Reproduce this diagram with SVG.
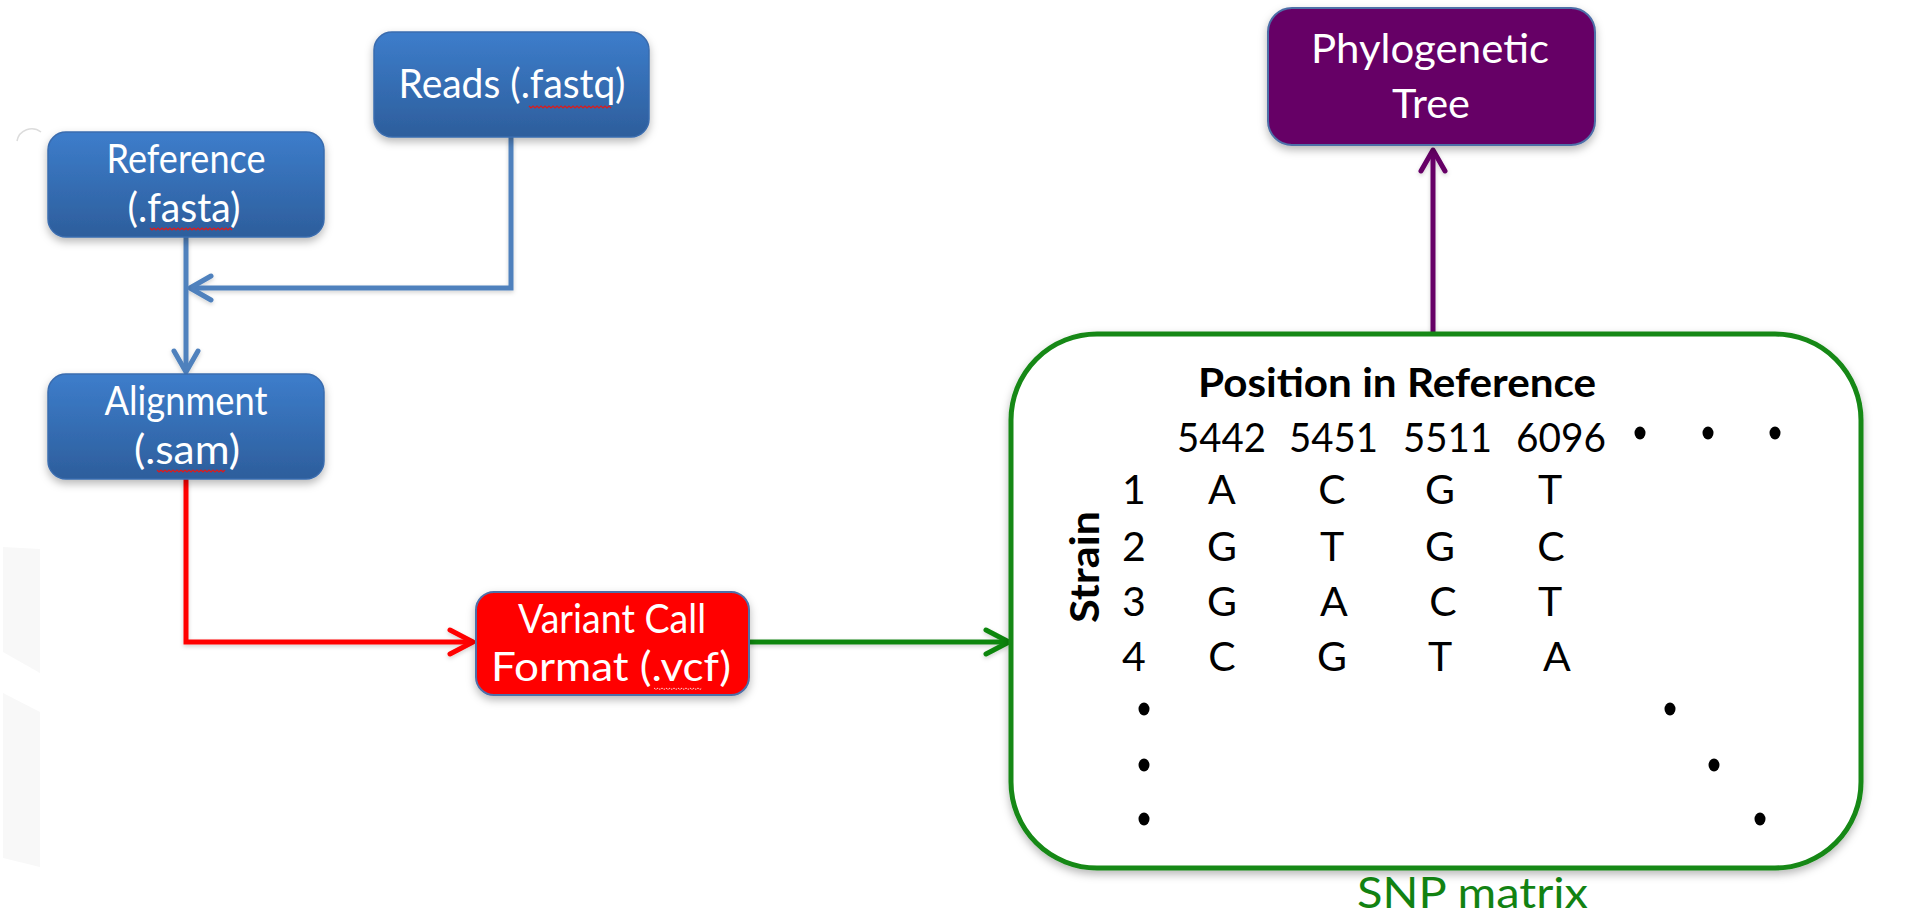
<svg xmlns="http://www.w3.org/2000/svg" width="1916" height="914" viewBox="0 0 1916 914">
  <defs>
    <linearGradient id="blueGrad" x1="0" y1="0" x2="0" y2="1">
      <stop offset="0" stop-color="#3d7dcb"/>
      <stop offset="1" stop-color="#2d5e9c"/>
    </linearGradient>
    <filter id="shadow" x="-10%" y="-10%" width="120%" height="130%">
      <feDropShadow dx="0" dy="4" stdDeviation="4" flood-color="#000" flood-opacity="0.28"/>
    </filter>
    <filter id="lshadow" filterUnits="userSpaceOnUse" x="0" y="0" width="1916" height="914">
      <feDropShadow dx="0" dy="2" stdDeviation="2" flood-color="#000" flood-opacity="0.18"/>
    </filter>
    <marker id="arrBlue" viewBox="-30 -20 40 40" markerWidth="40" markerHeight="40" refX="0" refY="0" orient="auto" markerUnits="userSpaceOnUse">
      <path d="M-21,-12 L0,0 L-21,12" fill="none" stroke="#4f81bd" stroke-width="5" stroke-linecap="round" stroke-linejoin="round"/>
    </marker>
    <marker id="arrRed" viewBox="-30 -20 40 40" markerWidth="40" markerHeight="40" refX="0" refY="0" orient="auto" markerUnits="userSpaceOnUse">
      <path d="M-23,-12 L0,0 L-23,12" fill="none" stroke="#ff0000" stroke-width="5" stroke-linecap="round" stroke-linejoin="round"/>
    </marker>
    <marker id="arrGreen" viewBox="-30 -20 40 40" markerWidth="40" markerHeight="40" refX="0" refY="0" orient="auto" markerUnits="userSpaceOnUse">
      <path d="M-23,-12 L0,0 L-23,12" fill="none" stroke="#0e860e" stroke-width="5" stroke-linecap="round" stroke-linejoin="round"/>
    </marker>
    <marker id="arrPurple" viewBox="-30 -20 40 40" markerWidth="40" markerHeight="40" refX="0" refY="0" orient="auto" markerUnits="userSpaceOnUse">
      <path d="M-21,-12 L0,0 L-21,12" fill="none" stroke="#660066" stroke-width="5" stroke-linecap="round" stroke-linejoin="round"/>
    </marker>
  </defs>
  <style>
    .blue { fill: url(#blueGrad); stroke: #3a6cae; stroke-width: 1.5; filter: url(#shadow); }
    .red { fill: #ff0000; stroke: #4e6fa8; stroke-width: 2; filter: url(#shadow); }
    .purple { fill: #660066; stroke: #4e6fa8; stroke-width: 2; filter: url(#shadow); }
    .snp { fill: #ffffff; stroke: #148814; stroke-width: 5; filter: url(#shadow); }
    .lbl { font-family: Lato, "Liberation Sans", sans-serif; font-size: 41px; fill: #ffffff; text-anchor: middle; }
    .mx { font-family: Lato, "Liberation Sans", sans-serif; font-size: 40px; fill: #000000; }
    .mxc { font-family: Lato, "Liberation Sans", sans-serif; font-size: 41px; fill: #000000; text-anchor: middle; }
    .bold { font-weight: bold; }
    .dot { fill: #000000; }
    .conn { fill: none; stroke-width: 5; filter: url(#lshadow); }
    .squig { fill: none; stroke: #e01a1a; stroke-width: 1.2; }
  </style>

  <rect x="0" y="0" width="1916" height="914" fill="#ffffff"/>

  <!-- faint background artifacts -->
  <g id="background-artifacts">
    <path d="M17,141 A15,15 0 0 1 41,132" fill="none" stroke="#dcdcdc" stroke-width="1.5"/>
    <polygon points="3,547 40,549 40,673 3,652" fill="#f8f8f8"/>
    <polygon points="3,693 40,712 40,867 3,858" fill="#f8f8f8"/>
  </g>

  <!-- connectors -->
  <g id="connectors">
    <path class="conn" d="M511,137 V288 H190" stroke="#4f81bd" marker-end="url(#arrBlue)"/>
    <path class="conn" d="M186,237 V372" stroke="#4f81bd" marker-end="url(#arrBlue)"/>
    <path class="conn" d="M186,479 V642 H473" stroke="#ff0000" marker-end="url(#arrRed)"/>
    <path class="conn" d="M749,642 H1009" stroke="#0e860e" marker-end="url(#arrGreen)"/>
    <path class="conn" d="M1433,332 V150" stroke="#660066" marker-end="url(#arrPurple)"/>
  </g>

  <g id="node-reads">
    <rect class="blue" x="374" y="32" width="275" height="105" rx="18"/>
    <text class="lbl" x="512" y="98" textLength="227" lengthAdjust="spacingAndGlyphs">Reads (.fastq)</text>
    <path class="squig" d="M529,106 l2,2 l2,-2 l2,2 l2,-2 l2,2 l2,-2 l2,2 l2,-2 l2,2 l2,-2 l2,2 l2,-2 l2,2 l2,-2 l2,2 l2,-2 l2,2 l2,-2 l2,2 l2,-2 l2,2 l2,-2 l2,2 l2,-2 l2,2 l2,-2 l2,2 l2,-2 l2,2 l2,-2 l2,2 l2,-2 l2,2 l2,-2 l2,2 l2,-2 l2,2 l2,-2 l2,2 l2,-2 l2,2"/>
  </g>

  <g id="node-reference">
    <rect class="blue" x="48" y="132" width="276" height="105" rx="18"/>
    <text class="lbl" x="186" y="173" textLength="159" lengthAdjust="spacingAndGlyphs">Reference</text>
    <text class="lbl" x="184" y="222" textLength="113" lengthAdjust="spacingAndGlyphs">(.fasta)</text>
    <path class="squig" d="M150,228 l2,2 l2,-2 l2,2 l2,-2 l2,2 l2,-2 l2,2 l2,-2 l2,2 l2,-2 l2,2 l2,-2 l2,2 l2,-2 l2,2 l2,-2 l2,2 l2,-2 l2,2 l2,-2 l2,2 l2,-2 l2,2 l2,-2 l2,2 l2,-2 l2,2 l2,-2 l2,2 l2,-2 l2,2 l2,-2 l2,2 l2,-2 l2,2 l2,-2 l2,2 l2,-2 l2,2 l2,-2 l2,2"/>
  </g>

  <g id="node-alignment">
    <rect class="blue" x="48" y="374" width="276" height="105" rx="18"/>
    <text class="lbl" x="186" y="415" textLength="163" lengthAdjust="spacingAndGlyphs">Alignment</text>
    <text class="lbl" x="187" y="464" textLength="106" lengthAdjust="spacingAndGlyphs">(.sam)</text>
    <path class="squig" d="M157,470 l2,2 l2,-2 l2,2 l2,-2 l2,2 l2,-2 l2,2 l2,-2 l2,2 l2,-2 l2,2 l2,-2 l2,2 l2,-2 l2,2 l2,-2 l2,2 l2,-2 l2,2 l2,-2 l2,2 l2,-2 l2,2 l2,-2 l2,2 l2,-2 l2,2 l2,-2 l2,2 l2,-2 l2,2 l2,-2 l2,2 l2,-2"/>
  </g>

  <g id="node-vcf">
    <rect class="red" x="476" y="592" width="273" height="103" rx="18"/>
    <text class="lbl" x="612" y="633" textLength="188" lengthAdjust="spacingAndGlyphs">Variant Call</text>
    <text class="lbl" x="611" y="681" textLength="240" lengthAdjust="spacingAndGlyphs">Format (.vcf)</text>
    <path d="M654,688 l2,1.5 l2,-1.5 l2,1.5 l2,-1.5 l2,1.5 l2,-1.5 l2,1.5 l2,-1.5 l2,1.5 l2,-1.5 l2,1.5 l2,-1.5 l2,1.5 l2,-1.5 l2,1.5 l2,-1.5 l2,1.5 l2,-1.5 l2,1.5 l2,-1.5 l2,1.5 l2,-1.5 l2,1.5 l2,-1.5" fill="none" stroke="#ffd6d6" stroke-width="1" stroke-dasharray="2 1"/>
  </g>

  <g id="node-phylo">
    <rect class="purple" x="1268" y="8" width="327" height="137" rx="24"/>
    <text class="lbl" x="1430" y="63" textLength="238" lengthAdjust="spacingAndGlyphs">Phylogenetic</text>
    <text class="lbl" x="1431" y="118" textLength="78" lengthAdjust="spacingAndGlyphs">Tree</text>
  </g>

  <g id="node-snp">
    <rect class="snp" x="1011" y="334" width="850" height="534" rx="86"/>
    <text class="mx bold" x="1198" y="397" textLength="398" lengthAdjust="spacingAndGlyphs">Position in Reference</text>
    <text class="mx" x="1177" y="452" textLength="89" lengthAdjust="spacingAndGlyphs">5442</text>
    <text class="mx" x="1289" y="452" textLength="89" lengthAdjust="spacingAndGlyphs">5451</text>
    <text class="mx" x="1403" y="452" textLength="89" lengthAdjust="spacingAndGlyphs">5511</text>
    <text class="mx" x="1516" y="452" textLength="90" lengthAdjust="spacingAndGlyphs">6096</text>
    <ellipse class="dot" cx="1640" cy="433" rx="5.5" ry="6.5"/>
    <ellipse class="dot" cx="1708" cy="433" rx="5.5" ry="6.5"/>
    <ellipse class="dot" cx="1775" cy="433" rx="5.5" ry="6.5"/>

    <text class="mxc bold" transform="translate(1099,567) rotate(-90)" textLength="112" lengthAdjust="spacingAndGlyphs">Strain</text>

    <text class="mxc" x="1134" y="504">1</text>
    <text class="mxc" x="1222" y="504">A</text>
    <text class="mxc" x="1332" y="504">C</text>
    <text class="mxc" x="1440" y="504">G</text>
    <text class="mxc" x="1550" y="504">T</text>

    <text class="mxc" x="1134" y="561">2</text>
    <text class="mxc" x="1222" y="561">G</text>
    <text class="mxc" x="1332" y="561">T</text>
    <text class="mxc" x="1440" y="561">G</text>
    <text class="mxc" x="1551" y="561">C</text>

    <text class="mxc" x="1134" y="616">3</text>
    <text class="mxc" x="1222" y="616">G</text>
    <text class="mxc" x="1334" y="616">A</text>
    <text class="mxc" x="1443" y="616">C</text>
    <text class="mxc" x="1550" y="616">T</text>

    <text class="mxc" x="1134" y="671">4</text>
    <text class="mxc" x="1222" y="671">C</text>
    <text class="mxc" x="1332" y="671">G</text>
    <text class="mxc" x="1440" y="671">T</text>
    <text class="mxc" x="1557" y="671">A</text>

    <ellipse class="dot" cx="1144" cy="709" rx="5.5" ry="6.5"/>
    <ellipse class="dot" cx="1144" cy="765" rx="5.5" ry="6.5"/>
    <ellipse class="dot" cx="1144" cy="819" rx="5.5" ry="6.5"/>
    <ellipse class="dot" cx="1670" cy="709" rx="5.5" ry="6.5"/>
    <ellipse class="dot" cx="1714" cy="765" rx="5.5" ry="6.5"/>
    <ellipse class="dot" cx="1760" cy="819" rx="5.5" ry="6.5"/>

    <text x="1357" y="908" textLength="231" lengthAdjust="spacingAndGlyphs" style="font-family: Lato, 'Liberation Sans', sans-serif; font-size: 42px; fill: #128212;">SNP matrix</text>
  </g>
</svg>
